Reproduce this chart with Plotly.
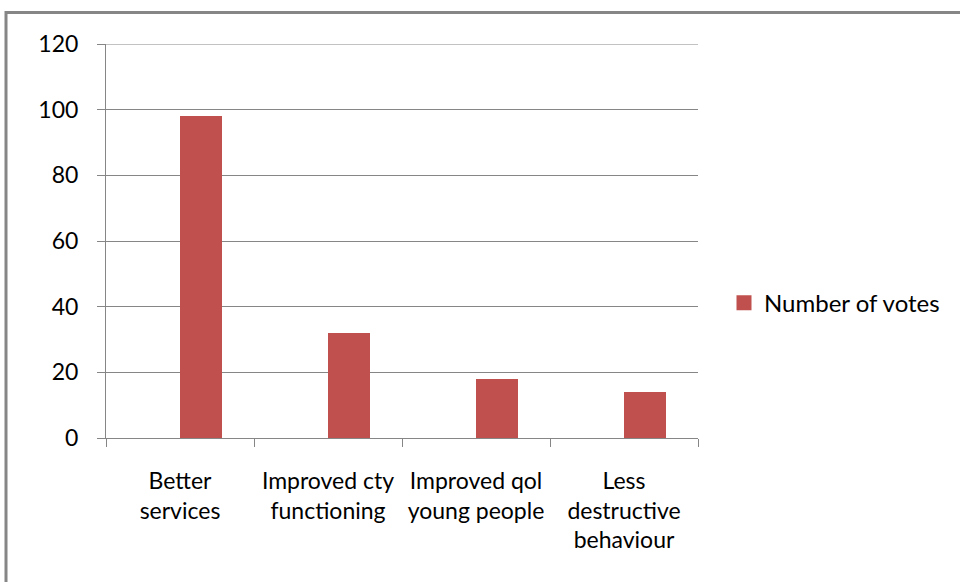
import plotly.graph_objects as go

categories = ["Better<br>services", "Improved cty<br>functioning", "Improved qol<br>young people", "Less<br>destructive<br>behaviour"]
votes = [98, 32, 18, 14]
series_name = "Number of votes"
y_ticks = [0, 20, 40, 60, 80, 100, 120]

L, R, T, B = 106, 698, 43.6, 438
W, H = 960, 582
pw, ph = R - L, B - T
bar_color = "#C0504D"

def px_x(x):
    return (x - L) / pw

def px_y(y):
    return (B - y) / ph

fig = go.Figure()
fig.add_trace(go.Bar(
    x=categories, y=votes, name=series_name,
    marker=dict(color=bar_color, line=dict(width=0)),
    width=0.2857, offset=0.0,
    showlegend=False, legendgroup="votes",
))
# legend entry with a larger square swatch
fig.add_trace(go.Scatter(
    x=[categories[0]], y=[None], name=series_name, mode="markers",
    marker=dict(symbol="square", size=15, color=bar_color),
    showlegend=True, legendgroup="votes", hoverinfo="skip",
))

font_family = "Lato, 'Open Sans', sans-serif"
fig.update_layout(
    width=W, height=H,
    margin=dict(l=L, r=W - R, t=T, b=H - B, pad=0),
    paper_bgcolor="white", plot_bgcolor="white",
    font=dict(family=font_family, size=23, color="black"),
    showlegend=True,
    legend=dict(x=px_x(724), y=px_y(303), xanchor="left", yanchor="middle",
                font=dict(size=24), itemsizing="trace", itemwidth=30,
                bgcolor="rgba(0,0,0,0)"),
    bargap=0,
)
fig.update_xaxes(
    type="category", range=[-0.5, 3.5],
    showgrid=False, showline=True, linecolor="#868686", linewidth=1,
    ticks="outside", tickson="boundaries", ticklen=8, tickcolor="#868686",
    ticklabelstandoff=22, tickfont=dict(size=23),
    zeroline=False,
)
fig.update_yaxes(
    range=[0, 120], tickvals=y_ticks,
    showgrid=True, gridcolor="#868686", gridwidth=1,
    showline=True, linecolor="#868686", linewidth=1,
    ticks="outside", ticklen=8, tickcolor="#868686",
    ticklabelstandoff=14, tickfont=dict(size=23),
    zeroline=False,
)
# top gridline (at the range edge)
fig.add_shape(type="line", xref="paper", yref="y", x0=0, x1=1, y0=y_ticks[-1], y1=y_ticks[-1],
              line=dict(color="#868686", width=1), layer="below")
fig.add_shape(type="rect", xref="paper", yref="paper",
              x0=px_x(6), x1=px_x(1000), y0=px_y(620), y1=px_y(12),
              line=dict(color="#868686", width=3), fillcolor="rgba(0,0,0,0)", layer="below")

fig.write_html("out.html")
